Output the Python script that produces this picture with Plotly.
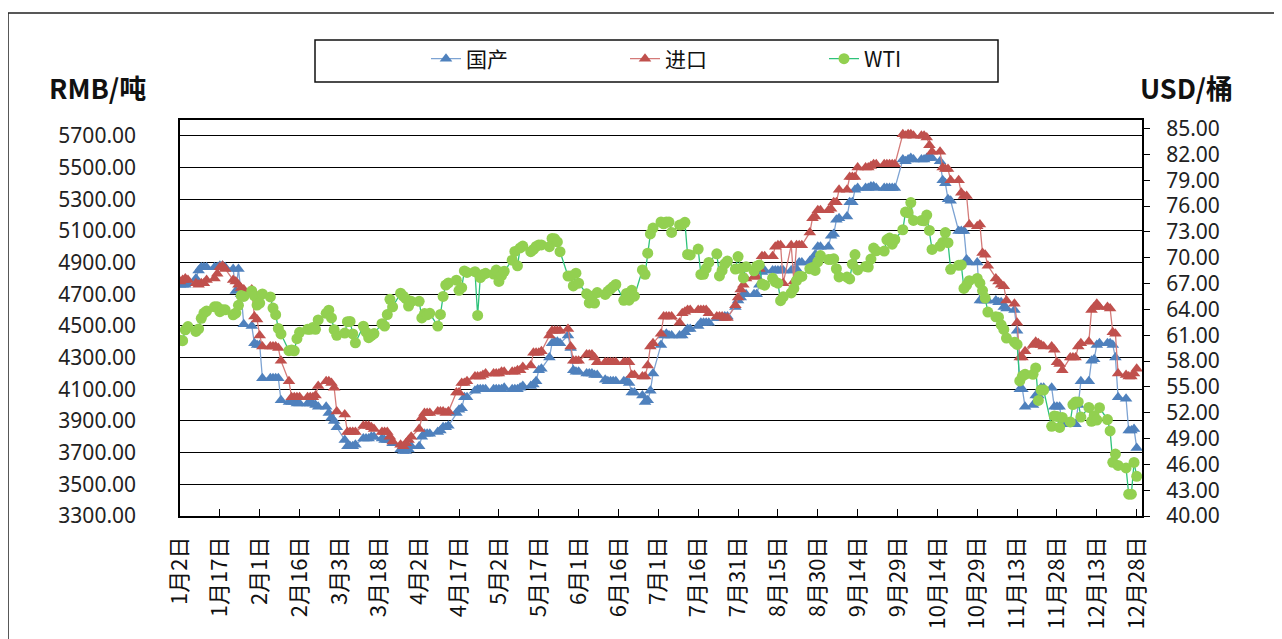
import pandas as pd
import plotly.graph_objects as go

# ---- trading dates (weekdays 2018-01-02 .. 2018-12-28) ----
dates = pd.bdate_range("2018-01-02", "2018-12-28")

# ---- 国产 (RMB/吨), month by month ----
dom_jan = [4760,4760,4760,4770,4800,4850,4870,4870,4870,4870,4870,4880,4880,4870,4860,4720,4860,4700,4510,4500,4390,4380]
dom_feb = [4380,4170,4170,4170,4170,4170,4030,4020,4020,4020,4010,4010,4010,4010,4010,4000,3990,3990,3950,3920]
dom_mar = [3900,3860,3780,3740,3740,3740,3750,3790,3790,3790,3800,3800,3790,3780,3780,3780,3760,3720,3710,3710,3720,3740]
dom_apr = [3740,3800,3820,3820,3820,3830,3840,3860,3860,3870,3950,3970,3980,4050,4050,4090,4100,4100,4100,4100,4100]
dom_may = [4100,4100,4100,4110,4100,4100,4100,4110,4120,4120,4130,4150,4220,4230,4300,4390,4400,4400,4390,4440,4360,4220,4210]
dom_jun = [4210,4200,4200,4200,4190,4190,4160,4150,4150,4150,4150,4150,4150,4140,4080,4080,4060,4020,4030,4090,4200]
dom_jul = [4380,4440,4450,4440,4440,4440,4440,4460,4480,4480,4500,4520,4520,4520,4520,4550,4550,4550,4560,4560,4620,4660]
dom_aug = [4680,4700,4700,4700,4700,4760,4840,4850,4850,4850,4850,4850,4850,4850,4850,4860,4900,4900,4910,4910,4950,5000,5000]
dom_sep = [5000,5070,5080,5170,5180,5190,5280,5280,5360,5370,5370,5370,5380,5380,5370,5370,5370,5370,5370,5370]
dom_oct = [5550,5540,5550,5560,5550,5550,5550,5560,5560,5560,5540,5420,5400,5300,5290,5100,5100,5100,4920,4900,4900,4660,4660]
dom_nov = [4660,4660,4660,4650,4650,4620,4610,4600,4470,4100,4100,3990,4000,4060,4060,4110,4110,4110,3990,3990,3990,3880]
dom_dec = [3880,3880,3880,4000,4150,4150,4280,4290,4380,4390,4390,4390,4380,4300,4050,4040,3840,3840,3850,3730]

# ---- 进口 (RMB/吨) ----
imp_jan = [4780,4790,4800,4790,4770,4760,4770,4770,4790,4800,4830,4870,4880,4860,4790,4780,4760,4740,4730,4730,4560,4540]
imp_feb = [4440,4370,4370,4370,4370,4360,4280,4150,4050,4050,4050,4050,4050,4050,4050,4060,4120,4150,4150,4140]
imp_mar = [4110,3960,3940,3830,3830,3830,3830,3870,3870,3870,3860,3850,3830,3830,3830,3800,3770,3750,3740,3760,3780,3800]
imp_apr = [3850,3920,3950,3950,3950,3960,3960,3960,3950,3960,4080,4080,4140,4140,4150,4180,4180,4180,4190,4200,4200]
imp_may = [4200,4200,4210,4210,4210,4210,4220,4220,4240,4250,4330,4330,4330,4340,4440,4470,4470,4470,4470,4480,4370,4280,4280]
imp_jun = [4280,4320,4320,4320,4300,4270,4270,4270,4270,4270,4270,4270,4270,4270,4190,4190,4180,4180,4250,4370,4390]
imp_jul = [4450,4560,4560,4560,4560,4520,4580,4590,4600,4600,4600,4600,4600,4600,4580,4560,4560,4560,4550,4550,4630,4680]
imp_aug = [4730,4760,4800,4810,4810,4860,4940,4940,4940,5000,5010,5010,4770,5010,4780,5010,5010,5010,5090,5180,5190,5230,5230]
imp_sep = [5230,5240,5280,5280,5360,5360,5440,5440,5440,5500,5500,5500,5510,5520,5520,5520,5520,5520,5520,5520]
imp_oct = [5710,5700,5710,5710,5700,5700,5700,5690,5640,5600,5600,5500,5490,5490,5420,5420,5340,5320,5320,5140,5130,5140,4960]
imp_nov = [4950,4880,4800,4780,4760,4750,4660,4640,4520,4300,4300,4340,4380,4400,4390,4380,4370,4370,4350,4270,4260,4220]
imp_dec = [4300,4300,4300,4370,4390,4400,4600,4620,4640,4620,4620,4610,4460,4450,4200,4190,4180,4180,4200,4230]

# ---- WTI (USD/桶) ----
wti_jan = [60.42,60.37,61.63,62.01,61.44,61.73,62.96,63.57,63.80,64.30,64.30,63.73,63.97,63.95,63.37,63.57,64.47,65.61,65.51,66.14,65.56,64.50]
wti_feb = [64.73,65.80,65.45,64.15,63.39,61.79,61.15,59.20,59.29,59.19,60.60,61.34,61.68,61.68,61.90,61.68,62.77,63.55,63.91,63.01]
wti_mar = [61.64,60.99,61.25,62.57,62.60,61.15,60.12,62.04,61.36,60.71,60.96,61.19,62.34,62.06,63.40,65.17,64.30,65.88,65.55,65.25,64.38,64.94]
wti_apr = [64.94,63.01,63.51,63.37,63.54,62.06,63.42,65.51,66.82,67.07,67.39,66.22,66.52,68.47,68.29,68.38,63.30,67.70,68.05,68.19,68.10]
wti_may = [68.57,67.25,67.93,68.43,69.72,70.73,69.06,71.14,71.36,70.70,70.96,71.31,71.49,71.49,71.28,72.24,72.20,71.84,70.71,67.88,67.88,66.73,68.21]
wti_jun = [67.04,65.81,64.75,65.52,64.73,65.95,65.74,66.10,66.36,66.64,66.89,65.06,65.85,65.07,66.22,65.54,68.58,68.08,70.53,72.76,73.45]
wti_jul = [74.15,73.94,74.14,74.14,72.94,73.80,73.85,74.11,70.38,70.33,71.01,68.06,68.08,68.76,69.46,70.46,67.89,68.52,69.30,69.61,68.69,70.13]
wti_aug = [68.76,67.66,68.96,68.49,69.01,69.17,66.94,66.81,67.63,67.20,67.04,65.01,65.46,65.91,66.43,67.35,67.86,67.83,68.72,68.87,68.53,69.51,70.25]
wti_sep = [69.80,69.80,69.87,68.72,67.77,67.75,67.54,69.25,70.37,68.59,68.99,68.91,69.85,71.12,70.80,70.78,72.08,72.28,71.57,72.12]
wti_oct = [73.25,75.30,75.23,76.41,74.33,74.34,74.29,74.96,73.17,70.97,71.34,71.78,72.92,71.75,68.65,69.12,69.17,66.43,66.82,67.33,67.59,67.04,66.18]
wti_nov = [65.31,63.69,63.14,63.10,62.21,61.67,60.67,60.19,59.93,55.69,56.25,56.46,56.46,57.20,53.43,54.63,54.63,50.42,51.63,51.56,50.29,51.45]
wti_dec = [50.93,52.95,53.25,53.25,51.49,52.61,51.00,51.65,51.15,52.58,51.20,49.88,46.24,47.20,45.88,45.59,42.53,42.53,46.22,44.61]

domestic = dom_jan + dom_feb + dom_mar + dom_apr + dom_may + dom_jun + dom_jul + dom_aug + dom_sep + dom_oct + dom_nov + dom_dec
imported = imp_jan + imp_feb + imp_mar + imp_apr + imp_may + imp_jun + imp_jul + imp_aug + imp_sep + imp_oct + imp_nov + imp_dec
wti = wti_jan + wti_feb + wti_mar + wti_apr + wti_may + wti_jun + wti_jul + wti_aug + wti_sep + wti_oct + wti_nov + wti_dec
assert len(domestic) == len(imported) == len(wti) == len(dates)

# ---- x tick labels ----
tick_dates = ["2018-01-02","2018-01-17","2018-02-01","2018-02-16","2018-03-03","2018-03-18","2018-04-02",
              "2018-04-17","2018-05-02","2018-05-17","2018-06-01","2018-06-16","2018-07-01","2018-07-16",
              "2018-07-31","2018-08-15","2018-08-30","2018-09-14","2018-09-29","2018-10-14","2018-10-29",
              "2018-11-13","2018-11-28","2018-12-13","2018-12-28"]
tick_labels = ["1月2日","1月17日","2月1日","2月16日","3月3日","3月18日","4月2日","4月17日","5月2日","5月17日",
               "6月1日","6月16日","7月1日","7月16日","7月31日","8月15日","8月30日","9月14日","9月29日",
               "10月14日","10月29日","11月13日","11月28日","12月13日","12月28日"]

BLUE, BLUE_L = "#4F81BD", "#7DA3D3"
RED, RED_L = "#C0504D", "#D47A78"
GREEN, GREEN_L = "#92D050", "#2EC27A"
CJK = "Noto Sans CJK SC"

fig = go.Figure()
fig.add_trace(go.Scatter(x=dates, y=domestic, name="国产", mode="lines+markers",
                         line=dict(color=BLUE_L, width=1.3),
                         marker=dict(symbol="triangle-up", size=11, color=BLUE)))
fig.add_trace(go.Scatter(x=dates, y=imported, name="进口", mode="lines+markers",
                         line=dict(color=RED_L, width=1.3),
                         marker=dict(symbol="triangle-up", size=11, color=RED)))
fig.add_trace(go.Scatter(x=dates, y=wti, name="WTI", mode="lines+markers", yaxis="y2",
                         line=dict(color=GREEN_L, width=1.3),
                         marker=dict(symbol="circle", size=11, color=GREEN)))

# page offset of the figure inside the browser page (default body margin)
OFF = 8
W, H = 1282 - OFF, 639 - OFF
# plot area in page pixels
L, R, T, B = 180, 1142, 120, 516
def px(x):
    return (x - L) / (R - L)
def py(y):
    return (B - y) / (B - T)

fig.update_layout(
    width=W, height=H,
    margin=dict(l=L - OFF, r=W - (R - OFF), t=T - OFF, b=H - (B - OFF)),
    paper_bgcolor="white", plot_bgcolor="white",
    showlegend=True,
    legend=dict(orientation="h", x=px(426), xanchor="left", y=py(59), yanchor="middle",
                font=dict(family=CJK, size=21, color="#111"),
                entrywidth=154, entrywidthmode="pixels",
                bgcolor="rgba(0,0,0,0)", borderwidth=0),
    xaxis=dict(type="date", range=["2018-01-02", "2018-12-30"],
               tickmode="array", tickvals=tick_dates, ticktext=tick_labels,
               tickangle=-90, ticks="inside", ticklen=7, tickwidth=1.3, tickcolor="black",
               ticklabelstandoff=10, automargin=False,
               showline=True, linecolor="black", linewidth=1.5, mirror=True,
               showgrid=False, zeroline=False,
               tickfont=dict(family=CJK, size=22, color="#111")),
    yaxis=dict(range=[3300, 5800], tick0=3300, dtick=200, tickformat=".2f",
               showgrid=True, gridcolor="black", gridwidth=1.3, automargin=False,
               showline=True, linecolor="black", linewidth=1.5, mirror=True,
               ticks="", ticklabelstandoff=38, zeroline=False,
               tickfont=dict(family="Noto Sans", size=21, color="#222")),
    yaxis2=dict(range=[40, 86], tick0=40, dtick=3, tickformat=".2f",
                overlaying="y", side="right", showgrid=False, zeroline=False,
                ticks="outside", ticklen=7, tickwidth=1.3, tickcolor="black",
                ticklabelstandoff=12, showline=False, automargin=False,
                tickfont=dict(family="Noto Sans", size=21, color="#222")),
    annotations=[
        dict(text="<b>RMB/吨</b>", x=px(97), y=py(87), xref="paper", yref="paper",
             showarrow=False, xanchor="center", yanchor="middle",
             font=dict(family=CJK, size=27, color="#111")),
        dict(text="<b>USD/桶</b>", x=px(1186), y=py(87), xref="paper", yref="paper",
             showarrow=False, xanchor="center", yanchor="middle",
             font=dict(family=CJK, size=27, color="#111")),
    ],
    shapes=[
        dict(type="rect", xref="paper", yref="paper", x0=px(8), x1=px(1300), y0=py(660), y1=py(13),
             line=dict(color="#222", width=1.5), fillcolor="rgba(0,0,0,0)", layer="below"),
        dict(type="rect", xref="paper", yref="paper", x0=px(315), x1=px(998), y0=py(82), y1=py(40),
             line=dict(color="#111", width=1.5), fillcolor="rgba(0,0,0,0)"),
    ],
)

fig.write_html("out.html")
